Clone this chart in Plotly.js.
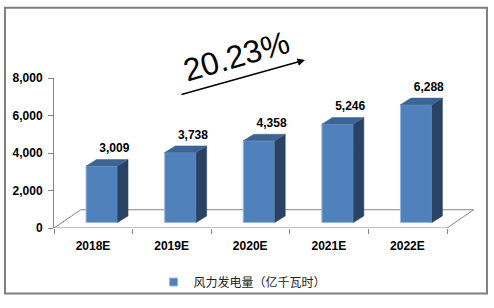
<!DOCTYPE html>
<html>
<head>
<meta charset="utf-8">
<script src="https://cdn.plot.ly/plotly-3.0.1.min.js"></script>
<style>html,body{margin:0;padding:0;background:#fff;}#chart{width:494px;height:308px;}</style>
</head>
<body>
<div id="chart"></div>
<script>
// ---- data ----
var categories = ['2018E', '2019E', '2020E', '2021E', '2022E'];
var values = [3009, 3738, 4358, 5246, 6288];
var seriesName = '风力发电量（亿千瓦时）';
var growthLabel = '20.23%';
var yTicks = [0, 2000, 4000, 6000, 8000];

// ---- 3D geometry (style constants, in axis units) ----
var faceOff = 0.108, faceW = 0.4, faceBase = 292;
var depthX = 0.134, depthY = 349;
var floorX = 0.34, floorY = 974;
var labelOffX = 0.16, labelOffY = 897;

var idx = categories.map(function (c, i) { return i; });
var frontX = idx.map(function (i) { return i + faceOff; });

var sideX = [], sideY = [], topX = [], topY = [];
idx.forEach(function (i) {
  var xl = i + faceOff - faceW / 2, xr = i + faceOff + faceW / 2;
  var yb = faceBase, yt = faceBase + values[i];
  sideX.push(xr, xr, xr + depthX, xr + depthX, xr, null);
  sideY.push(yb, yt, yt + depthY, yb + depthY, yb, null);
  topX.push(xl, xr, xr + depthX, xl + depthX, xl, null);
  topY.push(yt, yt, yt + depthY, yt + depthY, yt, null);
});

var n = categories.length;
var xMin = -0.5, xMax = n - 0.5;

var traces = [
  {
    type: 'bar', x: frontX, y: values, base: faceBase, width: faceW,
    marker: { color: '#4F81BD', line: { color: '#9BB7DB', width: 1 } },
    hoverinfo: 'skip', showlegend: false
  },
  {
    type: 'scatter', mode: 'lines', x: sideX, y: sideY, fill: 'toself',
    fillcolor: '#2A4263', line: { color: '#2A4263', width: 0.5 },
    hoverinfo: 'skip', showlegend: false
  },
  {
    type: 'scatter', mode: 'lines', x: topX, y: topY, fill: 'toself',
    fillcolor: '#3C6495', line: { color: '#3C6495', width: 0.5 },
    hoverinfo: 'skip', showlegend: false
  },
  {
    type: 'scatter', mode: 'text',
    x: idx.map(function (i) { return i + faceOff + labelOffX; }),
    y: values.map(function (v) { return v + faceBase + labelOffY; }),
    text: values.map(function (v) { return v.toLocaleString('en-US'); }),
    textposition: 'middle center',
    textfont: { family: 'Liberation Sans, Arial, sans-serif', size: 12, color: '#000', weight: 'bold' },
    cliponaxis: false, hoverinfo: 'skip', showlegend: false
  },
  {
    type: 'scatter', mode: 'markers', x: [null], y: [null], name: seriesName,
    marker: { symbol: 'square', size: 8, color: '#4F81BD', line: { color: '#9BB7DB', width: 1 } },
    showlegend: true
  }
];

var gray = '#868686';
var shapes = [
  { type: 'line', layer: 'below', xref: 'x', yref: 'y', x0: xMin, y0: 0, x1: xMax, y1: 0, line: { color: gray, width: 1 } },
  { type: 'line', layer: 'below', xref: 'x', yref: 'y', x0: xMin + floorX, y0: floorY, x1: xMax + floorX, y1: floorY, line: { color: gray, width: 1 } },
  { type: 'line', layer: 'below', xref: 'x', yref: 'y', x0: xMin, y0: 0, x1: xMin + floorX, y1: floorY, line: { color: gray, width: 1 } },
  { type: 'line', layer: 'below', xref: 'x', yref: 'y', x0: xMax, y0: 0, x1: xMax + floorX, y1: floorY, line: { color: gray, width: 1 } },
  // outer frame
  { type: 'rect', xref: 'paper', yref: 'paper', x0: -0.1161, x1: 1.026, y0: -0.436, y1: 1.468, line: { color: '#7F7F7F', width: 2 }, fillcolor: 'rgba(0,0,0,0)' }
];

var tickVals = [], tickText = [];
for (var k = 0; k <= n; k++) { tickVals.push(k - 0.5); tickText.push(k < n ? categories[k] : ''); }

var layout = {
  width: 494, height: 308,
  margin: { l: 54, r: 18, t: 78, b: 74 },
  paper_bgcolor: '#fff', plot_bgcolor: 'rgba(0,0,0,0)',
  showlegend: true,
  xaxis: {
    range: [xMin, xMin + 422 / 78.6], showgrid: false, zeroline: false, showline: false,
    tickmode: 'array', tickvals: tickVals, ticktext: tickText,
    ticks: 'outside', ticklen: 5, tickcolor: gray, tickwidth: 1,
    ticklabelshift: 39, ticklabelstandoff: 2,
    tickfont: { family: 'Liberation Sans, Arial, sans-serif', size: 12, color: '#000', weight: 'bold' },
    fixedrange: true
  },
  yaxis: {
    range: [0, 8000], showgrid: false, zeroline: false, showline: true, linecolor: gray, linewidth: 1,
    tickmode: 'array', tickvals: yTicks, ticktext: yTicks.map(function (v) { return v.toLocaleString('en-US'); }),
    ticks: 'outside', ticklen: 5, tickcolor: gray, tickwidth: 1, ticklabelstandoff: 3,
    tickfont: { family: 'Liberation Sans, Arial, sans-serif', size: 12, color: '#000', weight: 'bold' },
    fixedrange: true
  },
  legend: {
    orientation: 'h', x: 0.236, xanchor: 'left', y: -0.36, yanchor: 'middle',
    font: { family: 'Noto Sans CJK SC, sans-serif', size: 12, color: '#222' },
    bgcolor: 'rgba(0,0,0,0)'
  },
  shapes: shapes,
  annotations: [
    {
      xref: 'paper', yref: 'paper', x: 0.4336, y: 1.147, xanchor: 'center', yanchor: 'middle',
      text: growthLabel, showarrow: false, textangle: -16,
      font: { family: 'Liberation Sans, Arial, sans-serif', size: 32, color: '#000' }
    },
    {
      xref: 'paper', yref: 'paper', x: 0.5948, y: 1.12, text: '', showarrow: true,
      ax: -125, ay: 35, arrowhead: 2, arrowsize: 1, arrowwidth: 1.5, arrowcolor: '#000', standoff: 0
    }
  ]
};

Plotly.newPlot('chart', traces, layout, { staticPlot: true, displayModeBar: false });
</script>
</body>
</html>
